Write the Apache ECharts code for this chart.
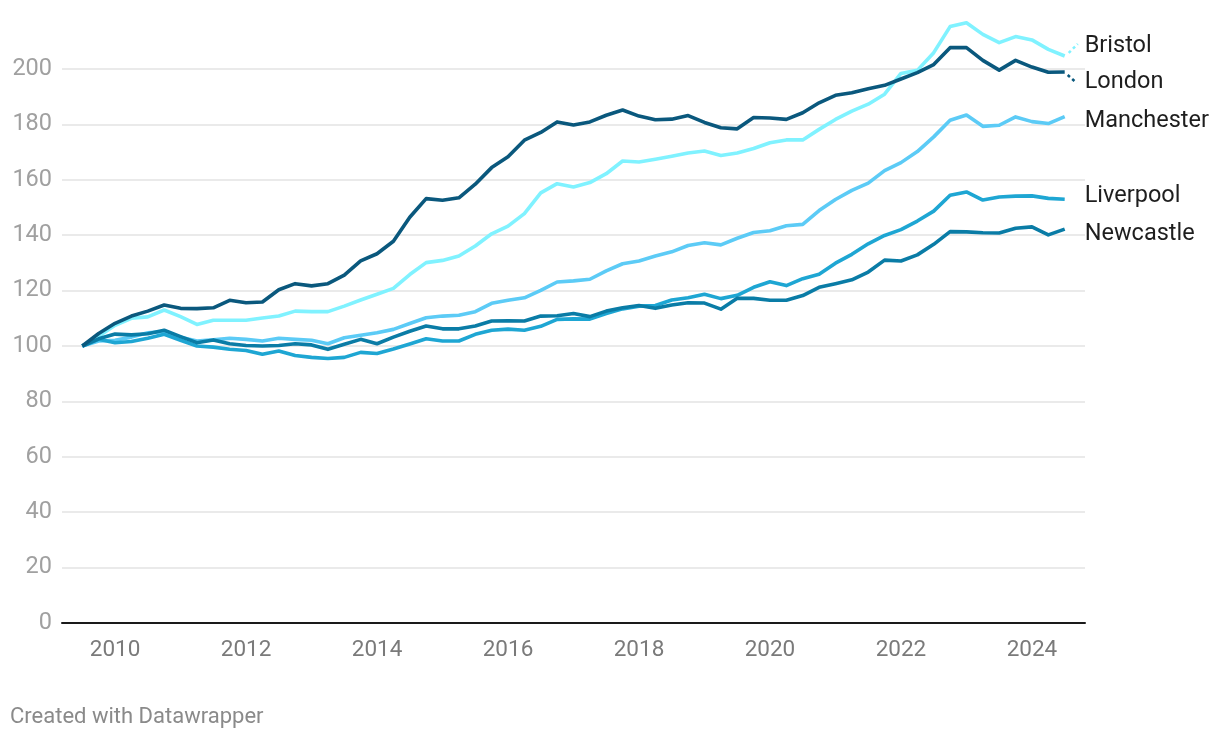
<!DOCTYPE html>
<html>
<head>
<meta charset="utf-8">
<script src="https://cdn.jsdelivr.net/npm/echarts@6/dist/echarts.min.js"></script>
<style>
  html, body { margin: 0; padding: 0; background: #fff; }
  #chart { width: 1220px; height: 738px; }
</style>
</head>
<body>
<div id="chart"></div>
<script>
// Quarterly index (first quarter shown = 100), mid-2009 to mid-2024
const startYear = 2009.5;
const yTicks = [0, 20, 40, 60, 80, 100, 120, 140, 160, 180, 200];
const xTickYears = [2010, 2012, 2014, 2016, 2018, 2020, 2022, 2024];

const bristol = [100, 103.5, 107.5, 110, 110.5, 113, 110.6, 107.8, 109.3, 109.3,
  109.3, 110.1, 110.8, 112.6, 112.4, 112.4, 114.4, 116.6, 118.7, 120.8,
  125.8, 130.1, 130.9, 132.5, 136.1, 140.5, 143.3, 147.8, 155.3, 158.6,
  157.4, 159, 162.2, 166.8, 166.4, 167.4, 168.5, 169.7, 170.4, 168.8,
  169.7, 171.3, 173.4, 174.4, 174.4, 178.2, 181.8, 184.8, 187.3, 190.9,
  198.4, 199.5, 205.9, 215.3, 216.7, 212.5, 209.5, 211.7, 210.5, 207.1, 204.7];

const london = [100, 104.5, 108.2, 110.8, 112.6, 114.8, 113.6, 113.5, 113.8, 116.5,
  115.6, 115.9, 120.3, 122.5, 121.7, 122.5, 125.6, 130.7, 133.3, 137.8,
  146.5, 153.2, 152.6, 153.5, 158.4, 164.4, 168.3, 174.3, 177.1, 180.9,
  179.8, 180.9, 183.3, 185.2, 183, 181.7, 181.9, 183.2, 180.7, 178.8,
  178.4, 182.5, 182.3, 181.8, 184.2, 187.8, 190.5, 191.4, 192.9, 194.1,
  196.4, 198.7, 201.6, 207.7, 207.7, 203.1, 199.6, 203.1, 200.7, 198.8, 198.9];

const manchester = [100, 101.8, 102.1, 103.2, 104.8, 105.2, 103.2, 101.8, 102.2, 102.8,
  102.4, 101.8, 102.8, 102.4, 102.1, 100.8, 103, 103.9, 104.8, 106,
  108.1, 110.2, 110.8, 111.1, 112.4, 115.4, 116.5, 117.4, 120.1, 123.1,
  123.5, 124.1, 127.1, 129.7, 130.7, 132.5, 134, 136.3, 137.3, 136.5,
  138.9, 141, 141.6, 143.4, 143.9, 148.9, 152.9, 156.2, 158.8, 163.3,
  166.2, 170.2, 175.5, 181.5, 183.4, 179.3, 179.7, 182.7, 181, 180.3, 182.8];

const liverpool = [100, 102.4, 101.2, 101.6, 102.8, 104.2, 102.1, 100, 99.6, 98.8,
  98.4, 97, 98.2, 96.6, 95.9, 95.5, 95.9, 97.7, 97.3, 98.9,
  100.7, 102.6, 101.8, 101.8, 104.2, 105.7, 106.1, 105.7, 107.1, 109.6,
  109.8, 109.7, 111.7, 113.4, 114.4, 114.6, 116.6, 117.4, 118.7, 117.1,
  118.3, 121.2, 123.2, 121.8, 124.3, 125.9, 129.9, 133.1, 136.9, 139.9,
  142, 145.1, 148.7, 154.4, 155.6, 152.7, 153.8, 154.1, 154.2, 153.3, 153];

const newcastle = [100, 102.6, 104.3, 104, 104.4, 105.7, 103.4, 101.2, 102.2, 100.8,
  100.2, 100, 100.2, 100.8, 100.4, 98.8, 100.6, 102.4, 100.8, 103.2,
  105.3, 107.2, 106.2, 106.2, 107.2, 109, 109.1, 109, 110.8, 110.9,
  111.7, 110.6, 112.6, 113.8, 114.6, 113.6, 114.8, 115.6, 115.5, 113.3,
  117.2, 117.2, 116.5, 116.5, 118.2, 121.2, 122.5, 123.9, 126.7, 131,
  130.7, 132.9, 136.7, 141.3, 141.2, 140.9, 140.8, 142.5, 143, 140.1, 142.2];

const seriesDefs = [
  { name: 'Bristol', values: bristol, color: '#80f2ff', offset: [15, -10] },
  { name: 'Manchester', values: manchester, color: '#5ccbf6', offset: [15, 4] },
  { name: 'Liverpool', values: liverpool, color: '#1ea6d3', offset: [15, -3] },
  { name: 'Newcastle', values: newcastle, color: '#0a7ca6', offset: [15, 5] },
  { name: 'London', values: london, color: '#0a587d', offset: [15, 10] }
];

const toPairs = vals => vals.map((v, i) => [startYear + i * 0.25, v]);

const chart = echarts.init(document.getElementById('chart'), null, { renderer: 'canvas' });

const option = {
  animation: false,
  backgroundColor: '#ffffff',
  textStyle: { fontFamily: 'Roboto' },
  grid: { left: 62, right: 135, top: 69, bottom: 115, containLabel: false },
  xAxis: {
    type: 'value',
    min: 2009.19,
    max: 2024.81,
    axisLine: { show: true, lineStyle: { color: '#1a1a1a', width: 2 } },
    axisTick: { show: false },
    splitLine: { show: false },
    axisLabel: {
      customValues: xTickYears,
      formatter: v => String(Math.round(v)),
      color: '#7a7a7a',
      fontSize: 22.5,
      fontFamily: 'Roboto',
      margin: 16
    }
  },
  yAxis: {
    type: 'value',
    min: 0,
    max: 200,
    interval: 20,
    axisLine: { show: false },
    axisTick: { show: false },
    splitLine: { show: true, lineStyle: { color: '#e3e3e3', width: 1.5 } },
    axisLabel: {
      color: '#a0a0a0',
      fontSize: 23.5,
      fontFamily: 'Roboto',
      margin: 10
    }
  },
  series: seriesDefs.map(s => ({
    name: s.name,
    type: 'line',
    data: toPairs(s.values),
    showSymbol: false,
    symbol: 'none',
    clip: false,
    lineStyle: { color: s.color, width: 3.6, join: 'round' },
    itemStyle: { color: s.color },
    emphasis: { disabled: true },
    endLabel: {
      show: true,
      formatter: s.name,
      color: '#1e1e1e',
      fontSize: 23.5,
      fontFamily: 'Roboto',
      distance: 5,
      offset: s.offset
    }
  })),
  graphic: [
    {
      type: 'text',
      left: 10,
      top: 706,
      style: { text: 'Created with Datawrapper', fill: '#8a8a8a', font: '22px Roboto' }
    }
  ]
};

chart.setOption(option);

// dotted leader lines for the displaced end labels (Bristol up, London down)
const leaders = [];
[['Bristol', bristol, [4, -3], [13, -12], '#80f2ff'], ['London', london, [3, 3], [12, 11], '#0a587d']].forEach(([n, vals, a, b, c]) => {
  const p = chart.convertToPixel({ gridIndex: 0 }, [startYear + (vals.length - 1) * 0.25, vals[vals.length - 1]]);
  leaders.push({
    type: 'line',
    shape: { x1: p[0] + a[0], y1: p[1] + a[1], x2: p[0] + b[0], y2: p[1] + b[1] },
    style: { stroke: c, lineWidth: 2.5, lineDash: [3, 3] }
  });
});
chart.setOption({ graphic: option.graphic.concat(leaders) });
</script>
</body>
</html>
